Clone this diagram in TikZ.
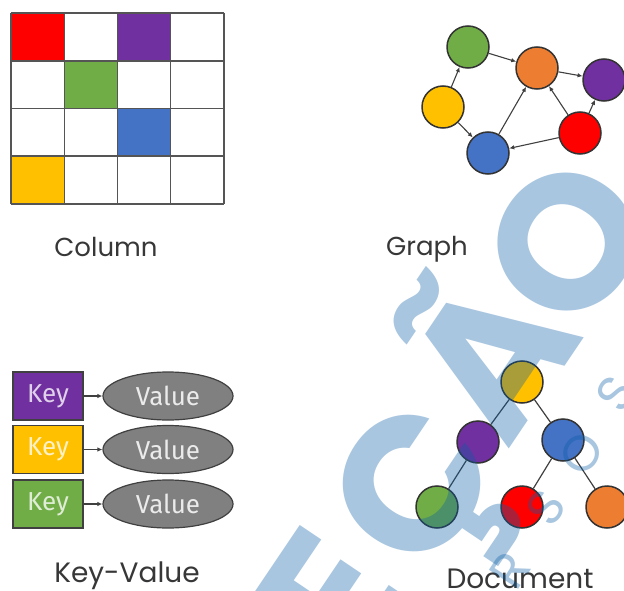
\documentclass[tikz,border=0pt]{standalone}
\usepackage{fontspec}
\setmainfont{Poppins}
\newfontfamily\keyfont{Fira Sans}
\newfontfamily\wmfont{Poppins}
\usetikzlibrary{arrows.meta,shapes.geometric}

\definecolor{cRed}{RGB}{255,0,0}
\definecolor{cPurple}{RGB}{112,48,160}
\definecolor{cGreen}{RGB}{112,173,71}
\definecolor{cBlue}{RGB}{68,114,196}
\definecolor{cYellow}{RGB}{255,192,0}
\definecolor{cOrange}{RGB}{237,125,49}
\definecolor{gridline}{RGB}{85,85,85}
\definecolor{labelgray}{RGB}{55,55,55}
\definecolor{valuegray}{RGB}{128,128,128}
\definecolor{wmblue}{RGB}{6,92,166}

\tikzset{
  cell/.style={fill=#1, draw=none},
  gnode/.style={circle, fill=#1, draw=black!80, line width=1.5pt,
    minimum size=42pt, inner sep=0pt},
  garrow/.style={-{Latex[length=5pt,width=4.5pt]}, line width=1.1pt, draw=black!75},
  tedge/.style={line width=1.2pt, draw=black!75},
  keybox/.style={rectangle, fill=#1, draw=black!75, line width=1.2pt,
    minimum width=70pt, minimum height=48pt, inner sep=0pt,
    text=white!78!#1, font=\keyfont\fontsize{26}{26}\selectfont},
  valnode/.style={ellipse, fill=valuegray, draw=black!75, line width=1.2pt,
    minimum width=130pt, minimum height=48pt, inner sep=0pt,
    text=black!8, font=\keyfont\fontsize{26}{26}\selectfont},
  caption/.style={anchor=base, inner sep=0pt, text=labelgray,
    font=\fontsize{26}{26}\selectfont},
  widecaption/.style={caption, font=\fontsize{28}{28}\selectfont},
  bigmark/.style={inner sep=0pt, rotate=56, text=wmblue, text opacity=0.35,
    font=\wmfont\bfseries\fontsize{190}{190}\selectfont},
  smallmark/.style={inner sep=0pt, rotate=57, text=wmblue, text opacity=0.35,
    font=\wmfont\fontsize{50}{50}\selectfont},
}
\newcommand{\wmglyph}[1]{\makebox[0pt]{\raisebox{-0.35em}[0pt][0pt]{#1}}}

\begin{document}
\begin{tikzpicture}[x=1pt,y=-1pt]
\useasboundingbox (0,0) rectangle (624,591);
\fill[white] (0,0) rectangle (624,591);

% ---- Column store grid ----
\fill[cell=cRed]    (11,13)    rectangle (64.5,61);
\fill[cell=cPurple] (117.5,13) rectangle (170.5,61);
\fill[cell=cGreen]  (64.5,61)  rectangle (117.5,108.5);
\fill[cell=cBlue]   (117.5,108.5) rectangle (170.5,156);
\fill[cell=cYellow] (11,156)   rectangle (64.5,204);
\foreach \x in {11,64.5,117.5,170.5,224}
  \draw[gridline, line width=1.8pt] (\x,13) -- (\x,204);
\foreach \y in {13,61,108.5,156,204}
  \draw[gridline, line width=1.8pt] (11,\y) -- (224,\y);
\node[caption] (colcap) at (106,256) {Column};

% ---- Graph store ----
\node[gnode=cGreen]  (gG) at (468,47)  {};
\node[gnode=cOrange] (gO) at (537,68)  {};
\node[gnode=cPurple] (gP) at (604,80)  {};
\node[gnode=cYellow] (gY) at (443,107) {};
\node[gnode=cRed]    (gR) at (580,133) {};
\node[gnode=cBlue]   (gB) at (488,153) {};
\draw[garrow] (gY) -- (gG);
\draw[garrow] (gG) -- (gO);
\draw[garrow] (gY) -- (gB);
\draw[garrow] (gB) -- (gO);
\draw[garrow] (gO) -- (gP);
\draw[garrow] (gR) -- (gO);
\draw[garrow] (gR) -- (gP);
\draw[garrow] (gR) -- (gB);
\node[caption] (graphcap) at (427,255) {Graph};

% ---- Key-value store ----
\node[keybox=cPurple] (k1) at (48,396)   {Key};
\node[keybox=cYellow] (k2) at (48,449.5) {Key};
\node[keybox=cGreen]  (k3) at (48,504)   {Key};
\node[valnode] (v1) at (168,396)   {Value};
\node[valnode] (v2) at (168,449.5) {Value};
\node[valnode] (v3) at (168,504)   {Value};
\foreach \i in {1,2,3}
  \draw[garrow] (k\i) -- (v\i);
\node[widecaption] (kvcap) at (127,582) {Key-Value};

% ---- Document store ----
\node[gnode=cYellow] (dRoot) at (522,382) {};
\node[gnode=cPurple] (dL)    at (478,442) {};
\node[gnode=cBlue]   (dR)    at (563,440) {};
\node[gnode=cGreen]  (dLL)   at (437,507) {};
\node[gnode=cRed]    (dRL)   at (522,507) {};
\node[gnode=cOrange] (dRR)   at (607,507) {};
\draw[tedge] (dRoot) -- (dL);
\draw[tedge] (dRoot) -- (dR);
\draw[tedge] (dL) -- (dLL);
\draw[tedge] (dR) -- (dRL);
\draw[tedge] (dR) -- (dRR);
\node[widecaption] (doccap) at (520,588) {Document};

% ---- translucent lettering on top ----
\node[bigmark] (wmE) at (332,598) {\wmglyph{E}};
\node[bigmark] (wmC) at (412,484) {\wmglyph{Ç}};
\node[bigmark] (wmA) at (492,356) {\wmglyph{Ã}};
\node[bigmark] (wmO) at (567,242) {\wmglyph{O}};
\node[smallmark] (wr)  at (510,570) {\wmglyph{R}};
\node[smallmark] (ws1) at (546,508) {\wmglyph{S}};
\node[smallmark] (wo)  at (582,453) {\wmglyph{O}};
\node[smallmark] (ws2) at (616,394) {\wmglyph{S}};
\end{tikzpicture}
\end{document}
